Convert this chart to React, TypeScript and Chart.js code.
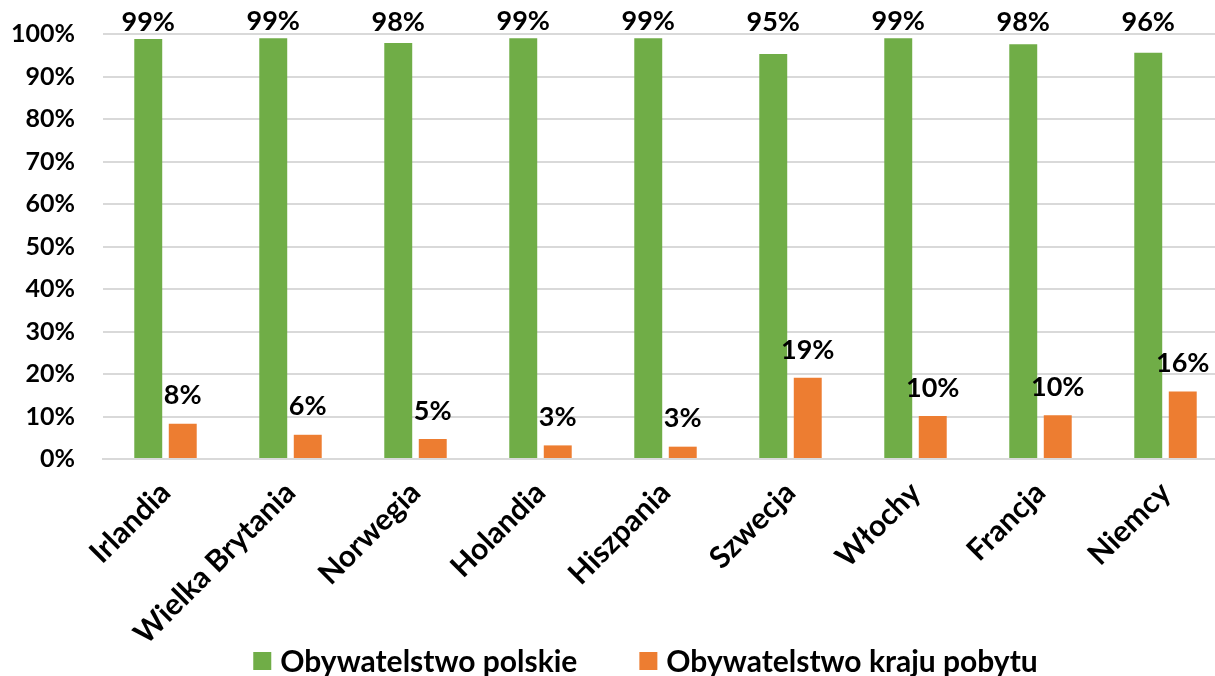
import React, { useEffect, useRef } from "react";
import { Chart, registerables } from "chart.js";

Chart.register(...registerables);

const categories = [
  "Irlandia",
  "Wielka Brytania",
  "Norwegia",
  "Holandia",
  "Hiszpania",
  "Szwecja",
  "Włochy",
  "Francja",
  "Niemcy",
];
const seriesNames = ["Obywatelstwo polskie", "Obywatelstwo kraju pobytu"];
const polskie = [98.8, 99.0, 97.9, 99.0, 99.0, 95.3, 99.0, 97.6, 95.6];
const krajPobytu = [8.3, 5.7, 4.7, 3.2, 2.9, 19.1, 10.1, 10.3, 15.9];
const seriesColors = ["#70AD47", "#ED7D31"];
const yMax = 100;
const yStep = 10;

const FONT = "Lato";

const valueLabels = {
  id: "valueLabels",
  afterDatasetsDraw(chart: any) {
    const ctx = chart.ctx;
    ctx.save();
    ctx.font = `bold 27px ${FONT}`;
    ctx.fillStyle = "#000";
    ctx.textAlign = "center";
    ctx.textBaseline = "middle";
    chart.data.datasets.forEach((ds: any, di: number) => {
      const meta = chart.getDatasetMeta(di);
      meta.data.forEach((bar: any, i: number) => {
        const v = ds.data[i];
        const y =
          di === 0
            ? Math.min(bar.y - 17, chart.chartArea.top - 12)
            : bar.y - 28;
        ctx.fillText(Math.round(v) + "%", bar.x, y);
      });
    });
    ctx.restore();
  },
};

const bottomLegend = {
  id: "bottomLegend",
  afterDraw(chart: any) {
    const ctx = chart.ctx;
    ctx.save();
    ctx.font = `bold 30px ${FONT}`;
    ctx.textBaseline = "middle";
    ctx.textAlign = "left";
    const box = 18;
    const gap = 9;
    const itemGap = 62;
    const ds = chart.data.datasets;
    const widths = ds.map((d: any) => box + gap + ctx.measureText(d.label).width);
    const total = widths.reduce((a: number, b: number) => a + b, 0) + itemGap * (ds.length - 1);
    let x = 645.5 - total / 2;
    const y = 661;
    ds.forEach((d: any, i: number) => {
      ctx.fillStyle = d.backgroundColor;
      ctx.fillRect(x, y - box / 2, box, box);
      ctx.fillStyle = "#000";
      ctx.fillText(d.label, x + box + gap, y + 1);
      x += widths[i] + itemGap;
    });
    ctx.restore();
  },
};

export default function App() {
  const ref = useRef<HTMLCanvasElement | null>(null);

  useEffect(() => {
    document.body.style.margin = "0";
    document.body.style.overflow = "hidden";
    document.documentElement.style.overflow = "hidden";
    const canvas = ref.current;
    if (!canvas) return;
    const chart = new Chart(canvas, {
      type: "bar",
      data: {
        labels: categories,
        datasets: [
          {
            label: seriesNames[0],
            data: polskie,
            backgroundColor: seriesColors[0],
            categoryPercentage: 0.552,
            barPercentage: 0.81,
          },
          {
            label: seriesNames[1],
            data: krajPobytu,
            backgroundColor: seriesColors[1],
            categoryPercentage: 0.552,
            barPercentage: 0.81,
          },
        ],
      },
      options: {
        responsive: false,
        animation: false,
        layout: { padding: { top: 34, bottom: 0, left: 0, right: 0 } },
        plugins: {
          legend: { display: false },
          tooltip: { enabled: false },
        },
        scales: {
          x: {
            grid: { display: false, drawTicks: false },
            border: { display: true, color: "#D9D9D9", width: 2 },
            ticks: {
              color: "#000",
              font: { family: FONT, size: 30, weight: "bold" },
              minRotation: 45,
              maxRotation: 45,
              padding: 16,
              autoSkip: false,
            },
            afterFit: (s: any) => {
              s.height = 217;
            },
          },
          y: {
            min: 0,
            max: yMax,
            grid: { color: "#D9D9D9", lineWidth: 2, drawTicks: false },
            border: { display: false },
            ticks: {
              stepSize: yStep,
              color: "#000",
              font: { family: FONT, size: 25, weight: "bold", lineHeight: 0.4 },
              padding: 28,
              callback: (v: any) => v + "%",
            },
            afterFit: (s: any) => {
              s.width = 103;
            },
          },
        },
      },
      plugins: [valueLabels, bottomLegend],
    });
    return () => chart.destroy();
  }, []);

  return (
    <div style={{ width: 1228, height: 676, position: "relative" }}>
      <canvas ref={ref} width={1228} height={676} style={{ width: 1228, height: 676, display: "block" }} />
    </div>
  );
}
